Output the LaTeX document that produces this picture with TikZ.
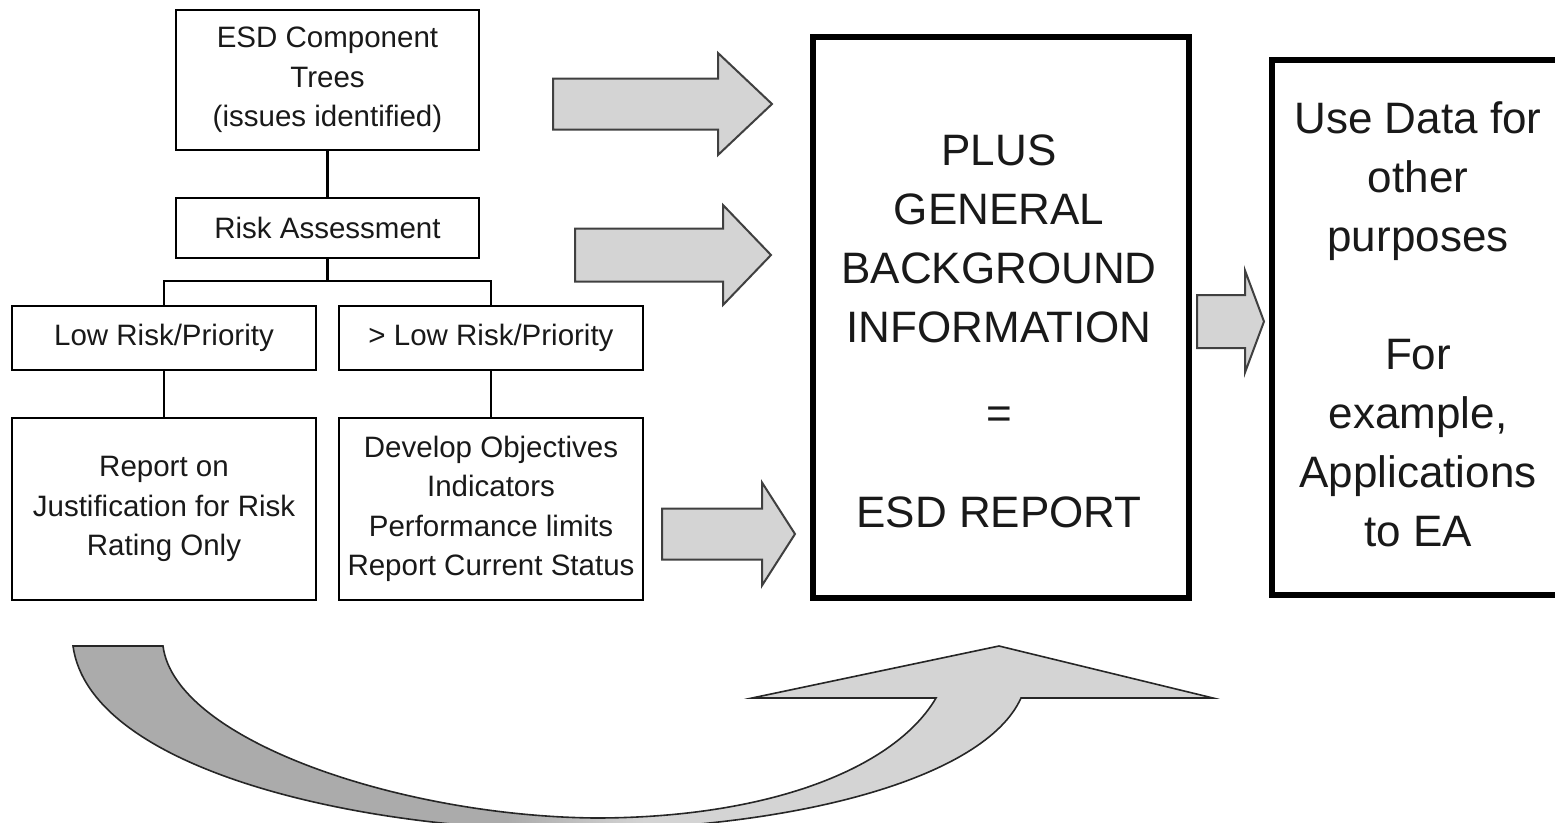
\documentclass[tikz,border=0pt]{standalone}
\usepackage{fontspec}
\setmainfont{Liberation Sans}
\newcommand\boxfont{\fontsize{29.5}{39.5}\selectfont}
\newcommand\bigfont{\fontsize{44}{59}\selectfont}
% shading of the bent return arrow: darker tail, lighter head
\pgfdeclarehorizontalshading{bendshade}{100bp}{color(0bp)=(gray!66); color(44bp)=(gray!66); color(50bp)=(gray!34); color(100bp)=(gray!34)}
% straight block arrow: start x, head base x, tip x, centre y, shaft half height, head half height
\newcommand\fatarrow[6]{%
  \draw[blockarrow] (#1,#4-#5) -- (#2,#4-#5) -- (#2,#4-#6) -- (#3,#4)
    -- (#2,#4+#6) -- (#2,#4+#5) -- (#1,#4+#5) -- cycle;}
\begin{document}
\begin{tikzpicture}[x=1pt,y=-1pt,
  box/.style={draw=black, line width=2.6pt, align=center, inner sep=0pt,
    font=\boxfont, text=black!90},
  bigbox/.style={draw=black, line width=6pt, inner sep=0pt},
  bigtext/.style={align=center, inner sep=0pt, font=\bigfont, text=black!90},
  link/.style={draw=black, line width=2.6pt},
  blockarrow/.style={draw=black!75, line width=2pt, fill=gray!34, line join=miter},
  bendarrow/.style={draw=black!85, line width=1.6pt, shading=bendshade}]
\useasboundingbox (0,0) rectangle (1555,822);
\clip (0,0) rectangle (1555,822);

% tree of boxes on the left
\node[box, minimum width=303pt, minimum height=140pt] (trees) at (327.5,80)
  {ESD Component\\Trees\\(issues identified)};
\node[box, minimum width=303pt, minimum height=60pt] (risk) at (327.5,228)
  {Risk Assessment};
\node[box, minimum width=304pt, minimum height=64pt] (low) at (164,338)
  {Low Risk/Priority};
\node[box, minimum width=304pt, minimum height=64pt] (high) at (491,338)
  {> Low Risk/Priority};
\node[box, minimum width=304pt, minimum height=182pt] (lowrep) at (164,509)
  {Report on\\Justification for Risk\\Rating Only};
\node[box, minimum width=304pt, minimum height=182pt] (highrep) at (491,509)
  {Develop Objectives\\Indicators\\Performance limits\\Report Current Status};

\coordinate (bar) at (327.5,281);
\draw[link] (trees.south) -- (risk.north);
\draw[link] (risk.south) -- (bar);
\draw[link] (low.north) |- (bar) -| (high.north);
\draw[link] (low.south) -- (lowrep.north);
\draw[link] (high.south) -- (highrep.north);

% report and use boxes
\node[bigbox, minimum width=376pt, minimum height=561pt] (esd) at (1001,317.5) {};
\node[bigtext] (esdtext) at (999,331)
  {PLUS\\GENERAL\\BACKGROUND\\INFORMATION\\[27pt]=\\[40pt]ESD REPORT};
\node[bigbox, minimum width=296pt, minimum height=535pt] (use) at (1420,327.5) {};
\node[bigtext] (usetext) at (1418,324)
  {Use Data for\\other\\purposes\\[59pt]For\\example,\\Applications\\to EA};

% block arrows
\fatarrow{553}{718}{772}{104}{25.5}{51}
\fatarrow{575}{723}{771}{255}{26.5}{50}
\fatarrow{662}{762}{795}{534}{25.5}{51.5}
\fatarrow{1197}{1245}{1264}{321.5}{26.5}{51}

% bent arrow returning under the tree
\draw[bendarrow] (73,646) -- (163,646)
  .. controls (175,740) and (400,816) .. (595,818)
  .. controls (770,818) and (895,768) .. (936,698)
  -- (752,698) -- (999,646) -- (1213,698) -- (1021,698)
  .. controls (985,778) and (795,830) .. (570,830)
  .. controls (360,830) and (90,770) .. (73,646) -- cycle;
\end{tikzpicture}
\end{document}
